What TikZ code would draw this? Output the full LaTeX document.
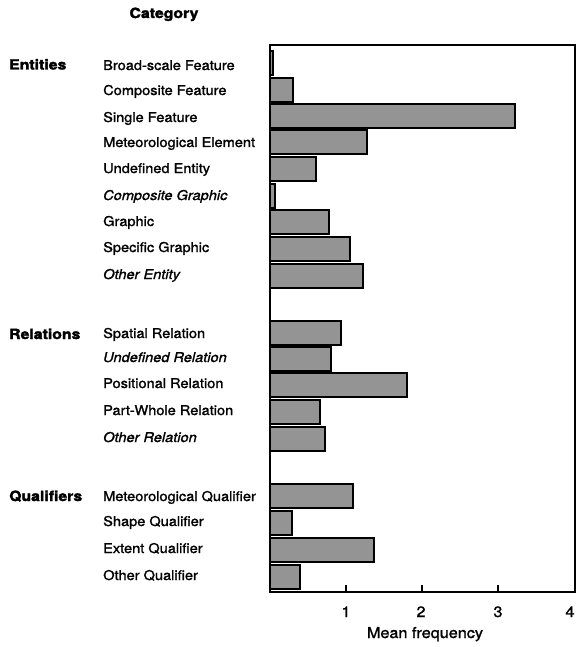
\documentclass[tikz,border=0pt]{standalone}
\usepackage{fontspec}
\newfontfamily\labfont[FakeBold=1.4,FakeStretch=1.08]{TeX Gyre Heros}
\newfontfamily\grpfont[FakeBold=2.2,FakeStretch=1.13]{TeX Gyre Heros}
\begin{document}
\begin{tikzpicture}[x=1pt,y=-1pt,
  sub/.style={anchor=base west,inner sep=0pt,font=\labfont\fontsize{13.5}{15}\selectfont},
  subit/.style={anchor=base west,inner sep=0pt,font=\labfont\itshape\fontsize{13.5}{15}\selectfont},
  grp/.style={anchor=base west,inner sep=0pt,font=\grpfont\bfseries\fontsize{14}{16}\selectfont},
  bar/.style={draw=black,line width=2pt,fill=black!42},
  frame/.style={line width=1.5pt},
  ticklab/.style={anchor=base,inner sep=0pt,font=\labfont\fontsize{15}{17}\selectfont}]
\useasboundingbox (0,0) rectangle (576,647);

% title
\node[grp,anchor=base] (cat) at (164,18) {Category};

% group labels
\node[grp] (gent) at (9,69.5) {Entities};
\node[grp] (grel) at (9,339) {Relations};
\node[grp] (gqua) at (9,501) {Qualifiers};

% category labels
\node[sub]   (e1) at (103,70)  {Broad-scale Feature};
\node[sub]   (e2) at (103,95)  {Composite Feature};
\node[sub]   (e3) at (103,122) {Single Feature};
\node[sub]   (e4) at (103,147) {Meteorological Element};
\node[sub]   (e5) at (103,173) {Undefined Entity};
\node[subit] (e6) at (103,200) {Composite Graphic};
\node[sub]   (e7) at (103,226) {Graphic};
\node[sub]   (e8) at (103,252) {Specific Graphic};
\node[subit] (e9) at (103,279) {Other Entity};

\node[sub]   (r1) at (103,338) {Spatial Relation};
\node[subit] (r2) at (103,362) {Undefined Relation};
\node[sub]   (r3) at (103,388) {Positional Relation};
\node[sub]   (r4) at (103,415) {Part-Whole Relation};
\node[subit] (r5) at (103,442) {Other Relation};

\node[sub]   (q1) at (103,501) {Meteorological Qualifier};
\node[sub]   (q2) at (103,526) {Shape Qualifier};
\node[sub]   (q3) at (103,553) {Extent Qualifier};
\node[sub]   (q4) at (103,580) {Other Qualifier};

% bars
\foreach \c/\v in {63.5/0.04, 90.5/0.30, 116/3.22, 142/1.28, 169/0.60, 195.5/0.07,
                   222/0.77, 248.5/1.05, 275.5/1.22,
                   333/0.94, 359/0.80, 385/1.80, 412/0.66, 439/0.73,
                   496/1.09, 523/0.29, 549.5/1.37, 576.5/0.39}
  \draw[bar] (270,\c-12) rectangle (270+\v*76,\c+12);

% frame and axis
\draw[frame] (270,45) rectangle (575,592);
\foreach \i in {1,2,3}
  \draw[frame] (270+\i*76,592) -- (270+\i*76,585);

\node[ticklab] (t1) at (346,617) {1};
\node[ticklab] (t2) at (421,617) {2};
\node[ticklab] (t3) at (498,617) {3};
\node[ticklab] (t4) at (570,617) {4};
\node[ticklab] (xl) at (425,638) {Mean frequency};
\end{tikzpicture}
\end{document}
